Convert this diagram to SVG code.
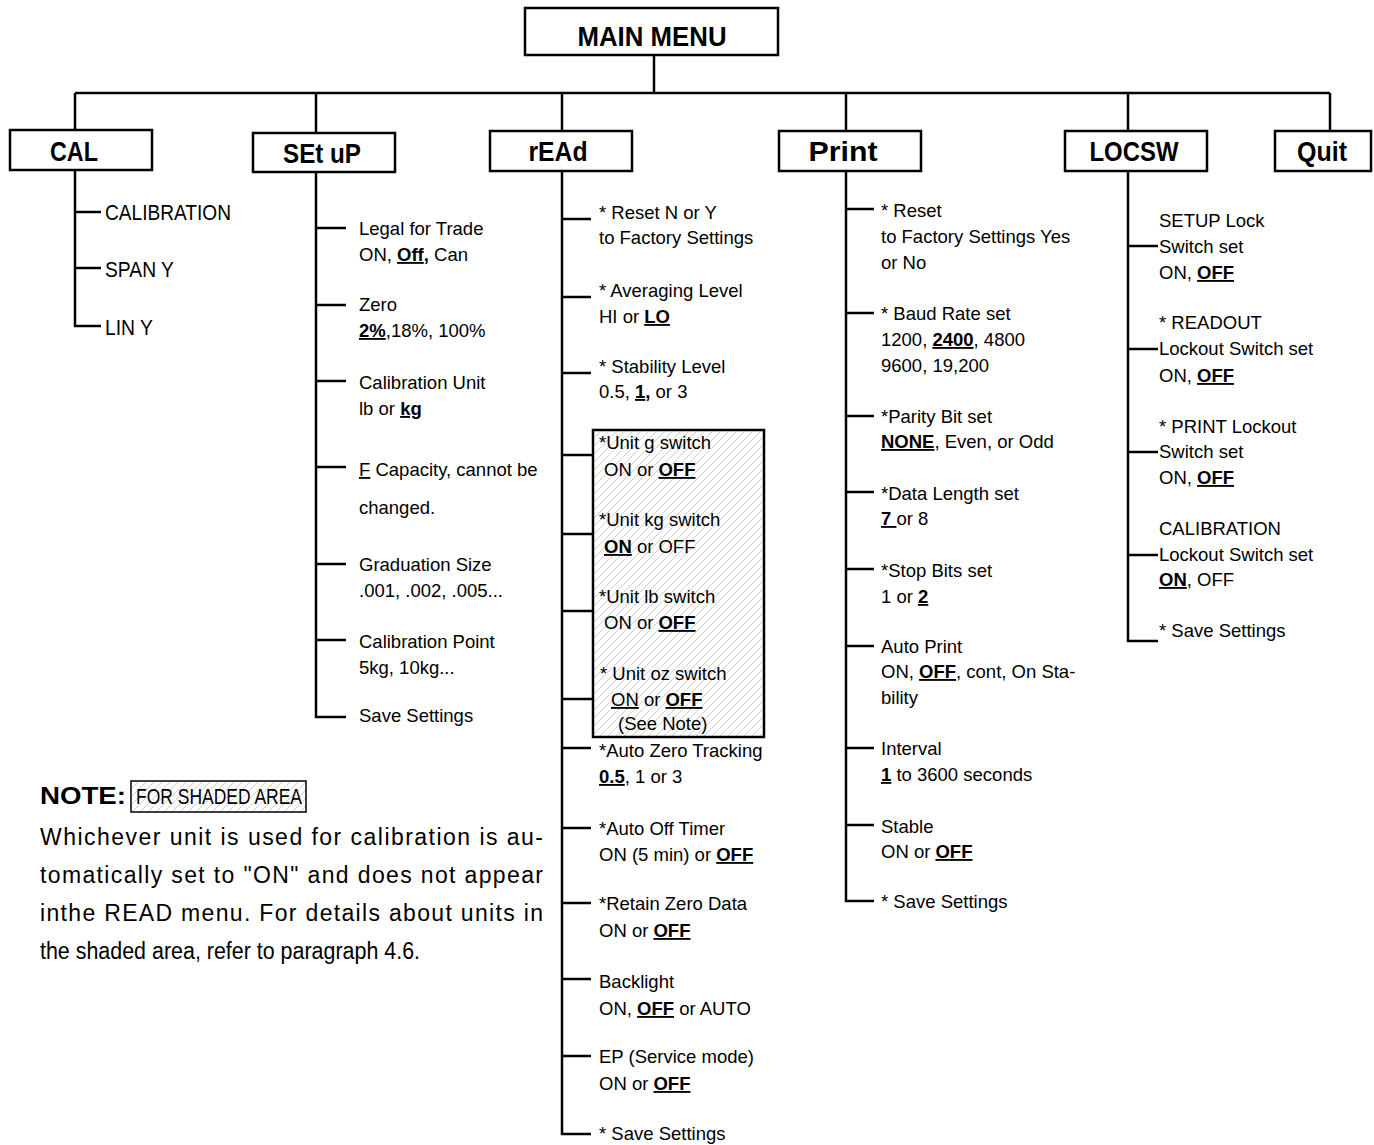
<svg xmlns="http://www.w3.org/2000/svg" width="1374" height="1145" viewBox="0 0 1374 1145">
<style>
.box{fill:#fff;stroke:#000;stroke-width:2.5}
.title{font-family:"Liberation Sans",Arial,sans-serif;font-weight:bold;font-size:28px;text-anchor:middle;fill:#000}
.t{font-family:"Liberation Sans",Arial,sans-serif;font-size:18.5px;fill:#000}
.cal{font-family:"Liberation Sans",Arial,sans-serif;font-size:22px;fill:#000}
.note{font-family:"Liberation Sans",Arial,sans-serif;font-size:23px;fill:#000}
.b{font-weight:bold}
.bu{font-weight:bold;text-decoration:underline}
.u{text-decoration:underline}
.conn path{fill:none;stroke:#000;stroke-width:2.5}
</style>
<defs>
<pattern id="hatch" patternUnits="userSpaceOnUse" width="8" height="8">
<path d="M-1,1 L1,-1 M0,8 L8,0 M7,9 L9,7" stroke="#c4c4c4" stroke-width="0.8"/>
</pattern>
</defs>

<g class="conn" id="connectors">
<path d="M654,55 V93"/>
<path d="M75,93 H1330"/>
<path d="M75,93 V130 M316,93 V133 M562,93 V131 M846,93 V131 M1128,93 V131 M1330,93 V131"/>
<path d="M75,170 V326 H101 M75,212 H101 M75,268 H101"/>
<path d="M316,172 V717 H346 M316,228 H346 M316,305 H346 M316,381 H346 M316,467 H346 M316,564 H346 M316,640 H346"/>
<path d="M562,171 V1134 H591 M562,219 H591 M562,297 H591 M562,373 H591 M562,455 H593 M562,534 H593 M562,611 H593 M562,699 H593 M562,748 H591 M562,828 H591 M562,903 H591 M562,979 H591 M562,1056 H591"/>
<path d="M846,171 V901 H874 M846,209 H874 M846,313 H874 M846,416 H874 M846,492 H874 M846,569 H874 M846,646 H874 M846,748 H874 M846,825 H874"/>
<path d="M1128,171 V641 H1158 M1128,246 H1158 M1128,349 H1158 M1128,452 H1158 M1128,555 H1158"/>
</g>

<g id="main-menu">
<rect class="box" x="525" y="8" width="253" height="47"/>
<text class="title" x="652" y="46" textLength="149" lengthAdjust="spacingAndGlyphs">MAIN MENU</text>
</g>

<g id="cal">
<rect class="box" x="10" y="130" width="142" height="40"/>
<text class="title" x="74" y="161" textLength="48" lengthAdjust="spacingAndGlyphs">CAL</text>
<text class="cal" x="105" y="220" textLength="126" lengthAdjust="spacingAndGlyphs">CALIBRATION</text>
<text class="cal" x="105" y="277" textLength="69" lengthAdjust="spacingAndGlyphs">SPAN Y</text>
<text class="cal" x="105" y="335" textLength="48" lengthAdjust="spacingAndGlyphs">LIN Y</text>
</g>

<g id="setup">
<rect class="box" x="253" y="133" width="142" height="39"/>
<text class="title" x="322" y="163" textLength="78" lengthAdjust="spacingAndGlyphs">SEt uP</text>
<text class="t" x="359" y="235">Legal for Trade</text>
<text class="t" x="359" y="261">ON, <tspan class="bu">Off</tspan><tspan class="b">,</tspan> Can</text>
<text class="t" x="359" y="311">Zero</text>
<text class="t" x="359" y="337"><tspan class="bu">2%</tspan>,18%, 100%</text>
<text class="t" x="359" y="389">Calibration Unit</text>
<text class="t" x="359" y="415">lb or <tspan class="bu">kg</tspan></text>
<text class="t" x="359" y="476"><tspan class="u">F</tspan> Capacity, cannot be</text>
<text class="t" x="359" y="514">changed.</text>
<text class="t" x="359" y="571">Graduation Size</text>
<text class="t" x="359" y="597">.001, .002, .005...</text>
<text class="t" x="359" y="648">Calibration Point</text>
<text class="t" x="359" y="674">5kg, 10kg...</text>
<text class="t" x="359" y="722">Save Settings</text>
</g>

<g id="read">
<rect class="box" x="490" y="131" width="142" height="40"/>
<text class="title" x="558" y="161" textLength="59" lengthAdjust="spacingAndGlyphs">rEAd</text>
<text class="t" x="599" y="219">* Reset N or Y</text>
<text class="t" x="599" y="244">to Factory Settings</text>
<text class="t" x="599" y="297">* Averaging Level</text>
<text class="t" x="599" y="323">HI or <tspan class="bu">LO</tspan></text>
<text class="t" x="599" y="373">* Stability Level</text>
<text class="t" x="599" y="398">0.5, <tspan class="bu">1</tspan><tspan class="b">,</tspan> or 3</text>
<rect x="593" y="430" width="171" height="307" fill="url(#hatch)" stroke="#000" stroke-width="2.5"/>
<text class="t" x="599" y="449">*Unit g switch</text>
<text class="t" x="604" y="476">ON or <tspan class="bu">OFF</tspan></text>
<text class="t" x="599" y="526">*Unit kg switch</text>
<text class="t" x="604" y="553"><tspan class="bu">ON</tspan> or OFF</text>
<text class="t" x="599" y="603">*Unit lb switch</text>
<text class="t" x="604" y="629">ON or <tspan class="bu">OFF</tspan></text>
<text class="t" x="600" y="680">* Unit oz switch</text>
<text class="t" x="611" y="706"><tspan class="u">ON</tspan> or <tspan class="bu">OFF</tspan></text>
<text class="t" x="618" y="730">(See Note)</text>
<text class="t" x="599" y="757">*Auto Zero Tracking</text>
<text class="t" x="599" y="783"><tspan class="bu">0.5</tspan>, 1 or 3</text>
<text class="t" x="599" y="835">*Auto Off Timer</text>
<text class="t" x="599" y="861">ON (5 min) or <tspan class="bu">OFF</tspan></text>
<text class="t" x="599" y="910">*Retain Zero Data</text>
<text class="t" x="599" y="937">ON or <tspan class="bu">OFF</tspan></text>
<text class="t" x="599" y="988">Backlight</text>
<text class="t" x="599" y="1015">ON, <tspan class="bu">OFF</tspan> or AUTO</text>
<text class="t" x="599" y="1063">EP (Service mode)</text>
<text class="t" x="599" y="1090">ON or <tspan class="bu">OFF</tspan></text>
<text class="t" x="599" y="1140">* Save Settings</text>
</g>

<g id="print">
<rect class="box" x="779" y="131" width="142" height="40"/>
<text class="title" x="843" y="161" textLength="69" lengthAdjust="spacingAndGlyphs">Print</text>
<text class="t" x="881" y="217">* Reset</text>
<text class="t" x="881" y="243">to Factory Settings Yes</text>
<text class="t" x="881" y="269">or No</text>
<text class="t" x="881" y="320">* Baud Rate set</text>
<text class="t" x="881" y="346">1200, <tspan class="bu">2400</tspan>, 4800</text>
<text class="t" x="881" y="372">9600, 19,200</text>
<text class="t" x="881" y="423">*Parity Bit set</text>
<text class="t" x="881" y="448"><tspan class="bu">NONE</tspan>, Even, or Odd</text>
<text class="t" x="881" y="500">*Data Length set</text>
<text class="t" x="881" y="525"><tspan class="bu">7 </tspan>or 8</text>
<text class="t" x="881" y="577">*Stop Bits set</text>
<text class="t" x="881" y="603">1 or <tspan class="bu">2</tspan></text>
<text class="t" x="881" y="653">Auto Print</text>
<text class="t" x="881" y="678">ON, <tspan class="bu">OFF</tspan>, cont, On Sta-</text>
<text class="t" x="881" y="704">bility</text>
<text class="t" x="881" y="755">Interval</text>
<text class="t" x="881" y="781"><tspan class="bu">1</tspan> to 3600 seconds</text>
<text class="t" x="881" y="833">Stable</text>
<text class="t" x="881" y="858">ON or <tspan class="bu">OFF</tspan></text>
<text class="t" x="881" y="908">* Save Settings</text>
</g>

<g id="locsw">
<rect class="box" x="1065" y="131" width="142" height="40"/>
<text class="title" x="1134" y="161" textLength="89" lengthAdjust="spacingAndGlyphs">LOCSW</text>
<text class="t" x="1159" y="227">SETUP Lock</text>
<text class="t" x="1159" y="253">Switch set</text>
<text class="t" x="1159" y="279">ON, <tspan class="bu">OFF</tspan></text>
<text class="t" x="1159" y="329">* READOUT</text>
<text class="t" x="1159" y="355">Lockout Switch set</text>
<text class="t" x="1159" y="382">ON, <tspan class="bu">OFF</tspan></text>
<text class="t" x="1159" y="433">* PRINT Lockout</text>
<text class="t" x="1159" y="458">Switch set</text>
<text class="t" x="1159" y="484">ON, <tspan class="bu">OFF</tspan></text>
<text class="t" x="1159" y="535">CALIBRATION</text>
<text class="t" x="1159" y="561">Lockout Switch set</text>
<text class="t" x="1159" y="586"><tspan class="bu">ON</tspan>, OFF</text>
<text class="t" x="1159" y="637">* Save Settings</text>
</g>

<g id="quit">
<rect class="box" x="1275" y="131" width="96" height="40"/>
<text class="title" x="1322" y="161" textLength="50" lengthAdjust="spacingAndGlyphs">Quit</text>
</g>

<g id="note">
<text class="note b" x="40" y="804" style="font-size:24px" textLength="86" lengthAdjust="spacingAndGlyphs">NOTE:</text>
<rect x="131" y="781" width="175" height="31" fill="url(#hatch)" stroke="#000" stroke-width="1.5"/>
<text class="note" x="136" y="804" style="font-size:22px" textLength="166" lengthAdjust="spacingAndGlyphs">FOR SHADED AREA</text>
<text class="note" x="40" y="845" textLength="503" lengthAdjust="spacing">Whichever unit is used for calibration is au-</text>
<text class="note" x="40" y="883" textLength="503" lengthAdjust="spacing">tomatically set to "ON" and does not appear</text>
<text class="note" x="40" y="921" textLength="503" lengthAdjust="spacing">inthe READ menu. For details about units in</text>
<text class="note" x="40" y="959" textLength="380" lengthAdjust="spacingAndGlyphs">the shaded area, refer to paragraph 4.6.</text>
</g>
</svg>
